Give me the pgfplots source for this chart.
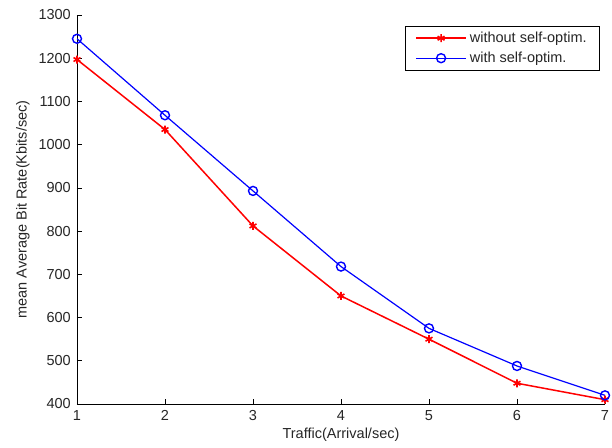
\documentclass[border=0pt]{standalone}
\usepackage{fontspec}
\setmainfont{Liberation Sans}
\usepackage{pgfplots}
\pgfplotsset{compat=1.18}

\begin{document}
\begin{tikzpicture}
\begin{axis}[
    name=ax,
    scale only axis,
    width=528pt,
    height=389pt,
    xmin=1, xmax=7,
    ymin=400, ymax=1300,
    xtick={1,...,7},
    ytick={400,500,...,1300},
    axis x line*=bottom,
    axis y line*=left,
    tick align=inside,
    major tick length=5pt,
    tick style={black, line width=0.6pt},
    axis line style={black, line width=0.7pt},
    ticklabel style={font=\fontsize{14.5}{16}\selectfont, text=black!85, inner sep=0pt},
    yticklabel style={xshift=-6pt},
    xticklabel style={yshift=-6pt},
    /pgf/number format/assume math mode=true,
    /pgf/number format/1000 sep={},
    xlabel={Traffic(Arrival/sec)},
    ylabel={mean Average Bit Rate(Kbits/sec)},
    label style={font=\fontsize{14.5}{16}\selectfont, text=black!85, inner sep=0pt},
    xlabel style={at={(axis description cs:0.5,0)}, anchor=center, yshift=-31pt},
    ylabel style={at={(axis description cs:-0.1023,0.5)}, anchor=center},
    legend style={at={(axis description cs:0.9905,0.972)}, anchor=north east, draw=black, line width=0.6pt,
        font=\fontsize{14.5}{16}\selectfont, inner xsep=10pt, inner ysep=5pt,
        text=black!85, row sep=6pt,
        nodes={inner xsep=3pt, inner ysep=1pt}},
    legend cell align=left,
    legend image code/.code={
        \draw[mark repeat=2, mark phase=2, #1] plot coordinates {(0pt,0pt) (25pt,0pt) (50pt,0pt)};
    },
]
\addplot[red, line width=1.5pt, mark=asterisk, mark size=4pt, mark options={line width=1.6pt}] coordinates {
    (1,1197) (2,1035) (3,812) (4,650) (5,550) (6,448) (7,410)
};
\addlegendentry{without self-optim.}
\addplot[blue, line width=1.2pt, mark=o, mark size=4.5pt, mark options={line width=1.4pt}] coordinates {
    (1,1245) (2,1068) (3,893) (4,718) (5,575) (6,488) (7,420)
};
\addlegendentry{with self-optim.}
\end{axis}
\pgfresetboundingbox
\path ([xshift=-77pt,yshift=-43pt]ax.south west) rectangle ([xshift=7pt,yshift=15pt]ax.north east);
\end{tikzpicture}
\end{document}
